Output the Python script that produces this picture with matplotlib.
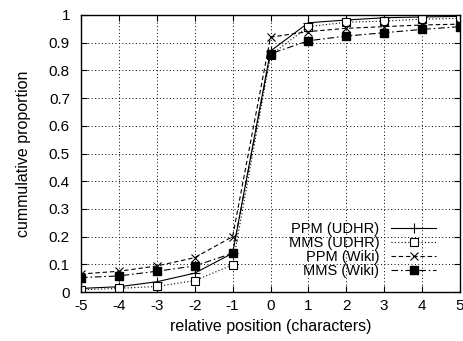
import numpy as np
import matplotlib
matplotlib.use('Agg')
from matplotlib import pyplot as plt

plt.rcParams['font.family'] = ['Liberation Sans', 'DejaVu Sans']
plt.rcParams['font.size'] = 8
plt.rcParams['axes.unicode_minus'] = False

# relative position (characters)
pos = [-5, -4, -3, -2, -1, 0, 1, 2, 3, 4, 5]

ppm_udhr = [0.013, 0.019, 0.037, 0.068, 0.14, 0.87, 0.972, 0.982, 0.99, 0.993, 0.995]
mms_udhr = [0.008, 0.013, 0.02, 0.041, 0.098, 0.855, 0.958, 0.974, 0.978, 0.985, 0.988]
ppm_wiki = [0.065, 0.075, 0.094, 0.124, 0.2, 0.92, 0.94, 0.952, 0.958, 0.964, 0.967]
mms_wiki = [0.052, 0.058, 0.075, 0.094, 0.14, 0.86, 0.907, 0.924, 0.936, 0.948, 0.958]

xticks = [-5, -4, -3, -2, -1, 0, 1, 2, 3, 4, 5]
xlabels = ['-5', '-4', '-3', '-2', '-1', '0', '1', '2', '3', '4', '5']
yticks = [0, 0.1, 0.2, 0.3, 0.4, 0.5, 0.6, 0.7, 0.8, 0.9, 1]
ylabels = ['0', '0.1', '0.2', '0.3', '0.4', '0.5', '0.6', '0.7', '0.8', '0.9', '1']

fig = plt.figure(figsize=(4.63, 3.41), dpi=100)
ax = fig.add_axes([81 / 463, 1 - 292 / 341, 379 / 463, 277 / 341])

lw = 0.8
ax.plot(pos, ppm_udhr, color='black', lw=lw, ls='-', marker='+', ms=7, mew=0.8,
        label='PPM (UDHR)')
ax.plot(pos, mms_udhr, color='black', lw=lw, ls=(0, (1, 2)), marker='s', ms=5.5, mew=0.8,
        mfc='white', label='MMS (UDHR)')
ax.plot(pos, ppm_wiki, color='black', lw=lw, ls=(0, (4, 2.5)), marker='x', ms=5.5, mew=0.8,
        label='PPM (Wiki)')
ax.plot(pos, mms_wiki, color='black', lw=lw, ls=(0, (6, 2.5, 1.5, 2.5)), marker='s', ms=6,
        mfc='black', label='MMS (Wiki)')

ax.set_xlim(-5, 5)
ax.set_ylim(0, 1)
ax.set_xticks(xticks)
ax.set_xticklabels(xlabels)
ax.set_yticks(yticks)
ax.set_yticklabels(ylabels)
ax.grid(True, color='black', ls=(0, (1, 2.5)), lw=0.7)
ax.tick_params(direction='in', top=True, right=True, length=4.5, width=0.8,
               labelsize=11)
ax.tick_params(axis='x', pad=5)
ax.tick_params(axis='y', pad=8)
for s in ax.spines.values():
    s.set_linewidth(1.0)

ax.set_xlabel('relative position (characters)', fontsize=11.5, labelpad=4)
ax.set_ylabel('cummulative proportion', fontsize=11.5, labelpad=13)

leg = ax.legend(loc='lower right', bbox_to_anchor=(0.937, 0.05), frameon=False,
                markerfirst=False, handlelength=3.1, handletextpad=0.8,
                labelspacing=0.0, fontsize=10.5, borderaxespad=0, borderpad=0)

plt.savefig('out.png', dpi=100)
